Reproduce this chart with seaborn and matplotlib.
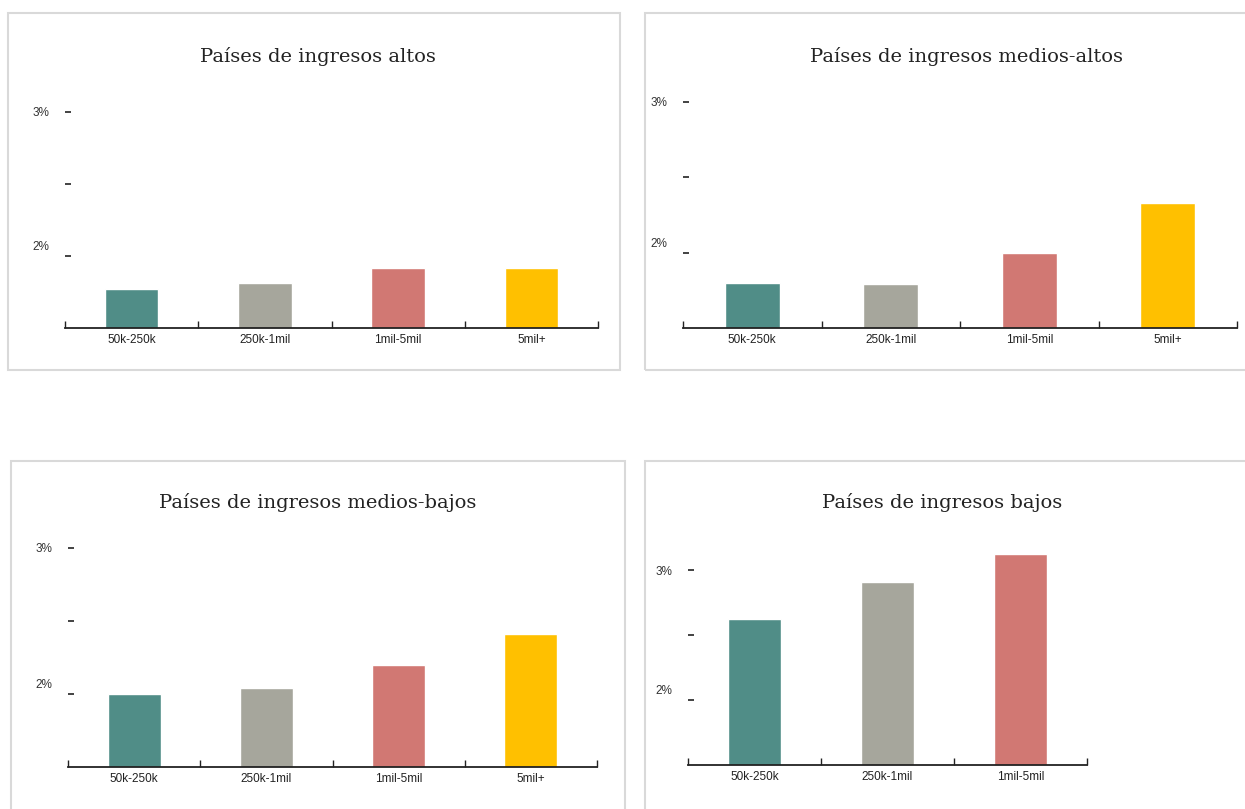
import pandas as pd
import seaborn as sns
import matplotlib.pyplot as plt
from matplotlib.patches import Rectangle
from matplotlib.transforms import ScaledTranslation

# Datos (%)
cats4 = ["50k-250k", "250k-1mil", "1mil-5mil", "5mil+"]
cats3 = ["50k-250k", "250k-1mil", "1mil-5mil"]
altos = [1.77, 1.81, 1.92, 1.92]
medios_altos = [1.80, 1.79, 2.00, 2.33]
medios_bajos = [2.00, 2.04, 2.20, 2.41]
bajos = [2.62, 2.91, 3.12]

titulos = ["Países de ingresos altos", "Países de ingresos medios-altos",
           "Países de ingresos medios-bajos", "Países de ingresos bajos"]
colores = {"50k-250k": "#508d87", "250k-1mil": "#a6a69c",
           "1mil-5mil": "#d17873", "5mil+": "#ffc000"}

W, H = 1245, 809
sns.set_style("white")
fig = plt.figure(figsize=(W / 100, H / 100), dpi=100)

# marcos de cada panel (px): x0, y0, x1, y1
marcos = [(8, 13, 620, 370), (645, 13, 1265, 370),
          (11, 461, 625, 825), (645, 461, 1265, 825)]
for x0, y0, x1, y1 in marcos:
    fig.patches.append(Rectangle((x0 / W, 1 - y1 / H), (x1 - x0) / W, (y1 - y0) / H,
                                 transform=fig.transFigure, fill=False,
                                 edgecolor="#d9d9d9", lw=1.5))

# ejes: izquierda, derecha, base, px por 1%
ejes = [(65, 598, 328, 144), (683, 1237, 328, 151),
        (68, 597, 767, 146), (688, 1087, 765, 130)]
titulo_pos = [(318, 57), (967, 57), (318, 502), (942, 502)]
datos = [(cats4, altos), (cats4, medios_altos), (cats4, medios_bajos), (cats3, bajos)]

ymin, ymax = 1.5, 3.2
sans = ["Liberation Sans", "DejaVu Sans"]

for (l, r, base, ppx), (tx, ty), (cats, vals), titulo in zip(ejes, titulo_pos, datos, titulos):
    h = (ymax - ymin) * ppx
    ax = fig.add_axes([l / W, 1 - base / H, (r - l) / W, h / H])
    df = pd.DataFrame({"cat": cats, "val": vals})
    sns.barplot(data=df, x="cat", y="val", hue="cat", palette=colores,
                width=0.4, legend=False, ax=ax, saturation=1)
    n = len(cats)
    ax.set_xlim(-0.5, n - 0.5)
    ax.set_ylim(ymin, ymax)
    ax.set_xlabel("")
    ax.set_ylabel("")
    for s in ["top", "right", "left"]:
        ax.spines[s].set_visible(False)
    ax.spines["bottom"].set_color("#222222")
    ax.spines["bottom"].set_linewidth(1.3)
    ax.set_xticks([i - 0.5 for i in range(n + 1)])
    ax.set_xticklabels([])
    ax.set_xticks(range(n), minor=True)
    ax.set_xticklabels(cats, minor=True, fontsize=8.5, family=sans, color="#222222")
    ax.tick_params(axis="x", which="major", direction="in", length=5, width=1,
                   color="#222222", bottom=True)
    ax.tick_params(axis="x", which="minor", length=0, pad=4, bottom=True)
    ax.set_yticks([2, 2.5, 3])
    ax.set_yticklabels(["2%", "", "3%"], fontsize=8.5, family=sans, color="#333333")
    ax.tick_params(axis="y", direction="in", length=4, width=1.2, color="#222222", pad=11, left=True)
    # la etiqueta 2% va algo por encima de su marca
    lab2 = ax.get_yticklabels()[0]
    lab2.set_transform(lab2.get_transform() + ScaledTranslation(0, 10 / 100, fig.dpi_scale_trans))
    fig.text(tx / W, 1 - ty / H, titulo, ha="center", va="center",
             fontsize=14, family="DejaVu Serif", color="#222222")

plt.savefig("out.png", dpi=100)
